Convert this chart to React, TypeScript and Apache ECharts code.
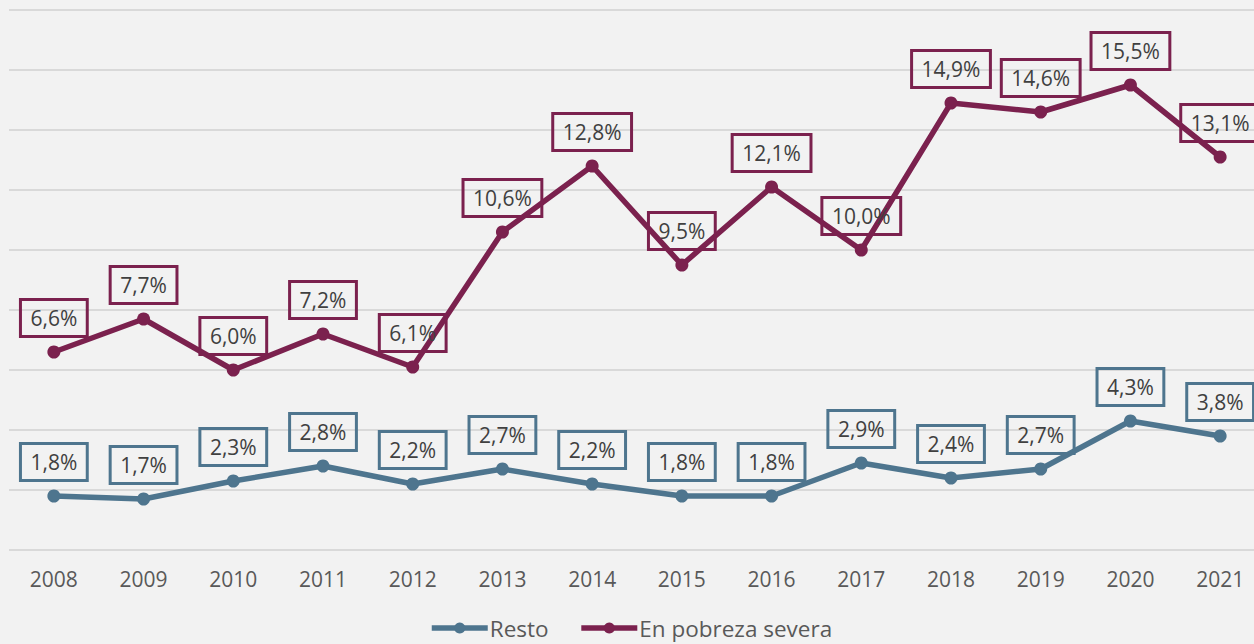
import React, { useEffect, useRef } from "react";
import * as echarts from "echarts";

const years = ["2008", "2009", "2010", "2011", "2012", "2013", "2014", "2015", "2016", "2017", "2018", "2019", "2020", "2021"];
const resto = [1.8, 1.7, 2.3, 2.8, 2.2, 2.7, 2.2, 1.8, 1.8, 2.9, 2.4, 2.7, 4.3, 3.8];
const severa = [6.6, 7.7, 6.0, 7.2, 6.1, 10.6, 12.8, 9.5, 12.1, 10.0, 14.9, 14.6, 15.5, 13.1];

const FONT = "'Open Sans', Lato, sans-serif";
const COLOR_RESTO = "#4e758e";
const COLOR_SEVERA = "#7b214e";

const fmt = (v: number) => v.toFixed(1).replace(".", ",") + "%";

function makeSeries(name: string, data: number[], color: string) {
  return {
    name,
    type: "line",
    data,
    symbol: "circle",
    symbolSize: 13,
    lineStyle: { width: 5.5, color },
    itemStyle: { color },
    label: {
      show: true,
      position: "top",
      distance: 9,
      formatter: (p: any) => fmt(p.value),
      fontFamily: FONT,
      fontSize: 21,
      color: "#404040",
      borderColor: color,
      borderWidth: 1.5,
      padding: [6, 10, 6, 10],
      lineHeight: 25,
      backgroundColor: "transparent",
    },
  };
}

export default function App() {
  const ref = useRef<HTMLDivElement>(null);

  useEffect(() => {
    document.body.style.margin = "0";
    const chart = echarts.init(ref.current!, null, { renderer: "svg" });
    chart.setOption({
      animation: false,
      backgroundColor: "#f2f2f2",
      grid: { left: 9, top: 10, right: 0, bottom: 94, containLabel: false },
      legend: {
        left: 429,
        top: 616,
        padding: 0,
        itemWidth: 56,
        itemHeight: 14,
        itemGap: 30,
        textStyle: { fontFamily: FONT, fontSize: 22.5, lineHeight: 24, color: "#595959", padding: [0, 0, 0, -3] },
        data: [
          { name: "Resto", lineStyle: { width: 5.5 } },
          { name: "En pobreza severa", lineStyle: { width: 5.5 } },
        ],
      },
      xAxis: {
        type: "category",
        data: years,
        boundaryGap: true,
        axisLine: { show: false },
        axisTick: { show: false },
        axisLabel: { fontFamily: FONT, fontSize: 21, color: "#595959", margin: 18 },
      },
      yAxis: {
        type: "value",
        min: 0,
        max: 18,
        interval: 2,
        axisLabel: { show: false },
        axisLine: { show: false },
        axisTick: { show: false },
        splitLine: { lineStyle: { color: "#d9d9d9", width: 2 } },
      },
      series: [
        makeSeries("Resto", resto, COLOR_RESTO),
        makeSeries("En pobreza severa", severa, COLOR_SEVERA),
      ],
    });
    return () => chart.dispose();
  }, []);

  return (
    <div style={{ width: 1254, height: 644, overflow: "hidden", position: "relative" }}>
      <div ref={ref} style={{ width: 1265, height: 644 }} />
    </div>
  );
}
